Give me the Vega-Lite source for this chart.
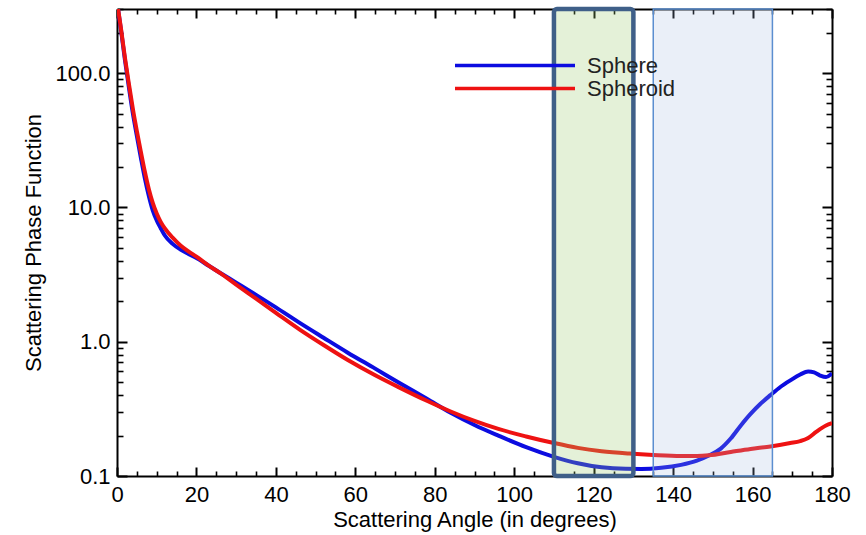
{
  "$schema": "https://vega.github.io/schema/vega-lite/v6.json",
  "width": 715,
  "height": 467,
  "autosize": {"type": "none"},
  "padding": {"left": 117, "top": 9, "right": 34, "bottom": 59},
  "background": "white",
  "config": {
    "view": {"stroke": null},
    "font": "Liberation Sans",
    "axis": {
      "grid": false,
      "labelFont": "Liberation Sans",
      "labelFontSize": 22,
      "labelColor": "#000000",
      "labelFlush": false,
      "labelOverlap": false,
      "titleFont": "Liberation Sans",
      "titleFontSize": 22,
      "titleFontWeight": "normal",
      "titleColor": "#000000",
      "domainColor": "#000000",
      "tickColor": "#000000",
      "domainWidth": 2,
      "tickWidth": 2
    }
  },
  "datasets": {
    "curves": [
      {"series": "Sphere", "angle": 0, "value": 340},
      {"series": "Sphere", "angle": 1, "value": 210},
      {"series": "Sphere", "angle": 2, "value": 125},
      {"series": "Sphere", "angle": 3, "value": 78},
      {"series": "Sphere", "angle": 4, "value": 50},
      {"series": "Sphere", "angle": 5, "value": 34},
      {"series": "Sphere", "angle": 6, "value": 23.5},
      {"series": "Sphere", "angle": 7, "value": 16.5},
      {"series": "Sphere", "angle": 8, "value": 12.2},
      {"series": "Sphere", "angle": 9, "value": 9.5},
      {"series": "Sphere", "angle": 10, "value": 8.0},
      {"series": "Sphere", "angle": 11, "value": 7.0},
      {"series": "Sphere", "angle": 12, "value": 6.2},
      {"series": "Sphere", "angle": 14, "value": 5.35},
      {"series": "Sphere", "angle": 16, "value": 4.85},
      {"series": "Sphere", "angle": 18, "value": 4.5},
      {"series": "Sphere", "angle": 20, "value": 4.2},
      {"series": "Sphere", "angle": 23, "value": 3.69},
      {"series": "Sphere", "angle": 26, "value": 3.25},
      {"series": "Sphere", "angle": 30, "value": 2.75},
      {"series": "Sphere", "angle": 35, "value": 2.23},
      {"series": "Sphere", "angle": 40, "value": 1.8},
      {"series": "Sphere", "angle": 46, "value": 1.38},
      {"series": "Sphere", "angle": 52, "value": 1.07},
      {"series": "Sphere", "angle": 58, "value": 0.832},
      {"series": "Sphere", "angle": 65, "value": 0.63},
      {"series": "Sphere", "angle": 71, "value": 0.495},
      {"series": "Sphere", "angle": 78, "value": 0.376},
      {"series": "Sphere", "angle": 84, "value": 0.296},
      {"series": "Sphere", "angle": 90, "value": 0.24},
      {"series": "Sphere", "angle": 96, "value": 0.2},
      {"series": "Sphere", "angle": 103, "value": 0.164},
      {"series": "Sphere", "angle": 110, "value": 0.139},
      {"series": "Sphere", "angle": 116, "value": 0.1245},
      {"series": "Sphere", "angle": 122, "value": 0.116},
      {"series": "Sphere", "angle": 128, "value": 0.113},
      {"series": "Sphere", "angle": 132, "value": 0.1127},
      {"series": "Sphere", "angle": 137, "value": 0.115},
      {"series": "Sphere", "angle": 142, "value": 0.121},
      {"series": "Sphere", "angle": 146, "value": 0.13},
      {"series": "Sphere", "angle": 149, "value": 0.142},
      {"series": "Sphere", "angle": 152, "value": 0.16},
      {"series": "Sphere", "angle": 154.5, "value": 0.19},
      {"series": "Sphere", "angle": 157, "value": 0.237},
      {"series": "Sphere", "angle": 159.5, "value": 0.29},
      {"series": "Sphere", "angle": 162, "value": 0.345},
      {"series": "Sphere", "angle": 164.5, "value": 0.4},
      {"series": "Sphere", "angle": 167, "value": 0.46},
      {"series": "Sphere", "angle": 169.5, "value": 0.515},
      {"series": "Sphere", "angle": 172, "value": 0.57},
      {"series": "Sphere", "angle": 174, "value": 0.6},
      {"series": "Sphere", "angle": 175.5, "value": 0.59},
      {"series": "Sphere", "angle": 177, "value": 0.56},
      {"series": "Sphere", "angle": 178.5, "value": 0.545},
      {"series": "Sphere", "angle": 180, "value": 0.58},
      {"series": "Spheroid", "angle": 0, "value": 340},
      {"series": "Spheroid", "angle": 1, "value": 215},
      {"series": "Spheroid", "angle": 2, "value": 130},
      {"series": "Spheroid", "angle": 3, "value": 83},
      {"series": "Spheroid", "angle": 4, "value": 54},
      {"series": "Spheroid", "angle": 5, "value": 37},
      {"series": "Spheroid", "angle": 6, "value": 26},
      {"series": "Spheroid", "angle": 7, "value": 18.5},
      {"series": "Spheroid", "angle": 8, "value": 13.7},
      {"series": "Spheroid", "angle": 9, "value": 10.8},
      {"series": "Spheroid", "angle": 10, "value": 9.0},
      {"series": "Spheroid", "angle": 11, "value": 7.8},
      {"series": "Spheroid", "angle": 12, "value": 7.0},
      {"series": "Spheroid", "angle": 14, "value": 5.95},
      {"series": "Spheroid", "angle": 16, "value": 5.2},
      {"series": "Spheroid", "angle": 18, "value": 4.7},
      {"series": "Spheroid", "angle": 20, "value": 4.3},
      {"series": "Spheroid", "angle": 23, "value": 3.7},
      {"series": "Spheroid", "angle": 26, "value": 3.24},
      {"series": "Spheroid", "angle": 30, "value": 2.66},
      {"series": "Spheroid", "angle": 35, "value": 2.09},
      {"series": "Spheroid", "angle": 40, "value": 1.64},
      {"series": "Spheroid", "angle": 46, "value": 1.23},
      {"series": "Spheroid", "angle": 52, "value": 0.944},
      {"series": "Spheroid", "angle": 58, "value": 0.733},
      {"series": "Spheroid", "angle": 65, "value": 0.562},
      {"series": "Spheroid", "angle": 71, "value": 0.457},
      {"series": "Spheroid", "angle": 78, "value": 0.363},
      {"series": "Spheroid", "angle": 84, "value": 0.302},
      {"series": "Spheroid", "angle": 90, "value": 0.257},
      {"series": "Spheroid", "angle": 96, "value": 0.224},
      {"series": "Spheroid", "angle": 103, "value": 0.197},
      {"series": "Spheroid", "angle": 110, "value": 0.176},
      {"series": "Spheroid", "angle": 116, "value": 0.162},
      {"series": "Spheroid", "angle": 122, "value": 0.153},
      {"series": "Spheroid", "angle": 129, "value": 0.147},
      {"series": "Spheroid", "angle": 135, "value": 0.1435},
      {"series": "Spheroid", "angle": 142, "value": 0.141},
      {"series": "Spheroid", "angle": 146, "value": 0.141},
      {"series": "Spheroid", "angle": 149, "value": 0.1425},
      {"series": "Spheroid", "angle": 154.5, "value": 0.151},
      {"series": "Spheroid", "angle": 159.5, "value": 0.159},
      {"series": "Spheroid", "angle": 164.5, "value": 0.166},
      {"series": "Spheroid", "angle": 169.5, "value": 0.176},
      {"series": "Spheroid", "angle": 172, "value": 0.182},
      {"series": "Spheroid", "angle": 174, "value": 0.192},
      {"series": "Spheroid", "angle": 176, "value": 0.213},
      {"series": "Spheroid", "angle": 178.5, "value": 0.238},
      {"series": "Spheroid", "angle": 180, "value": 0.248}
    ],
    "greenband": [{"start": 110, "end": 130}],
    "blueband": [{"start": 135, "end": 165}]
  },
  "layer": [
    {
      "data": {"name": "curves"},
      "mark": {"type": "line", "strokeWidth": 4, "clip": true, "interpolate": "monotone"},
      "encoding": {
        "x": {
          "field": "angle", "type": "quantitative",
          "scale": {"domain": [0, 180], "nice": false, "zero": false},
          "axis": {
            "orient": "bottom", "values": [0, 20, 40, 60, 80, 100, 120, 140, 160, 180],
            "ticks": false, "domain": false, "labelPadding": 8,
            "title": "Scattering Angle (in degrees)", "titlePadding": 4
          }
        },
        "y": {
          "field": "value", "type": "quantitative",
          "scale": {"type": "log", "domain": [0.1, 300], "nice": false},
          "axis": {
            "orient": "left", "values": [0.1, 1, 10, 100], "format": ".1f",
            "ticks": false, "domain": false, "labelPadding": 7,
            "title": "Scattering Phase Function", "titlePadding": 9
          }
        },
        "color": {
          "field": "series", "type": "nominal",
          "scale": {"domain": ["Sphere", "Spheroid"], "range": ["#0c0ce0", "#ee1212"]},
          "legend": {
            "orient": "none", "legendX": 386, "legendY": 44.5, "title": null,
            "symbolType": "M-6,0H6", "symbolSize": 400, "symbolStrokeWidth": 3.5,
            "labelFontSize": 22, "labelFont": "Liberation Sans", "labelColor": "#222222",
            "labelOffset": 60, "rowPadding": 0
          }
        }
      }
    },
    {
      "data": {"name": "greenband"},
      "mark": {"type": "rect", "fill": "#9ccb6e", "fillOpacity": 0.27},
      "encoding": {
        "x": {"field": "start", "type": "quantitative", "axis": null},
        "x2": {"field": "end"}
      }
    },
    {
      "data": {"name": "blueband"},
      "mark": {"type": "rect", "fill": "#a0b4e0", "fillOpacity": 0.22},
      "encoding": {
        "x": {"field": "start", "type": "quantitative", "axis": null},
        "x2": {"field": "end"}
      }
    },
    {
      "data": {"name": "blueband"},
      "mark": {"type": "rect", "fill": null, "stroke": "#5b8ed0", "strokeWidth": 1.5},
      "encoding": {
        "x": {"field": "start", "type": "quantitative", "axis": null},
        "x2": {"field": "end"}
      }
    },
    {
      "data": {"name": "greenband"},
      "mark": {"type": "rect", "fill": null, "stroke": "#3f5f88", "strokeWidth": 4.5, "cornerRadius": 3},
      "encoding": {
        "x": {"field": "start", "type": "quantitative", "axis": null},
        "x2": {"field": "end"}
      }
    },
    {
      "data": {"name": "curves"},
      "mark": {"type": "point", "opacity": 0},
      "encoding": {
        "x": {
          "field": "angle", "type": "quantitative",
          "axis": {"orient": "bottom", "values": [0, 20, 40, 60, 80, 100, 120, 140, 160, 180],
            "labels": false, "tickSize": -9, "domain": true, "title": null}
        },
        "y": {
          "field": "value", "type": "quantitative",
          "axis": {"orient": "left", "values": [0.1, 1, 10, 100],
            "labels": false, "tickSize": -10, "domain": true, "title": null}
        }
      }
    },
    {
      "data": {"name": "curves"},
      "mark": {"type": "point", "opacity": 0},
      "encoding": {
        "x": {
          "field": "angle", "type": "quantitative",
          "axis": {"orient": "bottom", "values": [5, 10, 15, 25, 30, 35, 45, 50, 55, 65, 70, 75, 85, 90, 95, 105, 110, 115, 125, 130, 135, 145, 150, 155, 165, 170, 175],
            "labels": false, "tickSize": -5, "tickWidth": 1.6, "domain": false, "title": null}
        },
        "y": {
          "field": "value", "type": "quantitative",
          "axis": {"orient": "left", "values": [0.2, 0.3, 0.4, 0.5, 0.6, 0.7, 0.8, 0.9, 2, 3, 4, 5, 6, 7, 8, 9, 20, 30, 40, 50, 60, 70, 80, 90, 200, 300],
            "labels": false, "tickSize": -6, "tickWidth": 1.6, "domain": false, "title": null}
        }
      }
    },
    {
      "data": {"name": "curves"},
      "mark": {"type": "point", "opacity": 0},
      "encoding": {
        "x": {
          "field": "angle", "type": "quantitative",
          "axis": {"orient": "top", "values": [0, 20, 40, 60, 80, 100, 120, 140, 160, 180],
            "labels": false, "tickSize": -9, "domain": true, "title": null}
        },
        "y": {
          "field": "value", "type": "quantitative",
          "axis": {"orient": "right", "values": [0.1, 1, 10, 100],
            "labels": false, "tickSize": -10, "domain": true, "title": null}
        }
      }
    },
    {
      "data": {"name": "curves"},
      "mark": {"type": "point", "opacity": 0},
      "encoding": {
        "x": {
          "field": "angle", "type": "quantitative",
          "axis": {"orient": "top", "values": [5, 10, 15, 25, 30, 35, 45, 50, 55, 65, 70, 75, 85, 90, 95, 105, 110, 115, 125, 130, 135, 145, 150, 155, 165, 170, 175],
            "labels": false, "tickSize": -5, "tickWidth": 1.6, "domain": false, "title": null}
        },
        "y": {
          "field": "value", "type": "quantitative",
          "axis": {"orient": "right", "values": [0.2, 0.3, 0.4, 0.5, 0.6, 0.7, 0.8, 0.9, 2, 3, 4, 5, 6, 7, 8, 9, 20, 30, 40, 50, 60, 70, 80, 90, 200, 300],
            "labels": false, "tickSize": -6, "tickWidth": 1.6, "domain": false, "title": null}
        }
      }
    }
  ],
  "resolve": {"axis": {"x": "independent", "y": "independent"}}
}
